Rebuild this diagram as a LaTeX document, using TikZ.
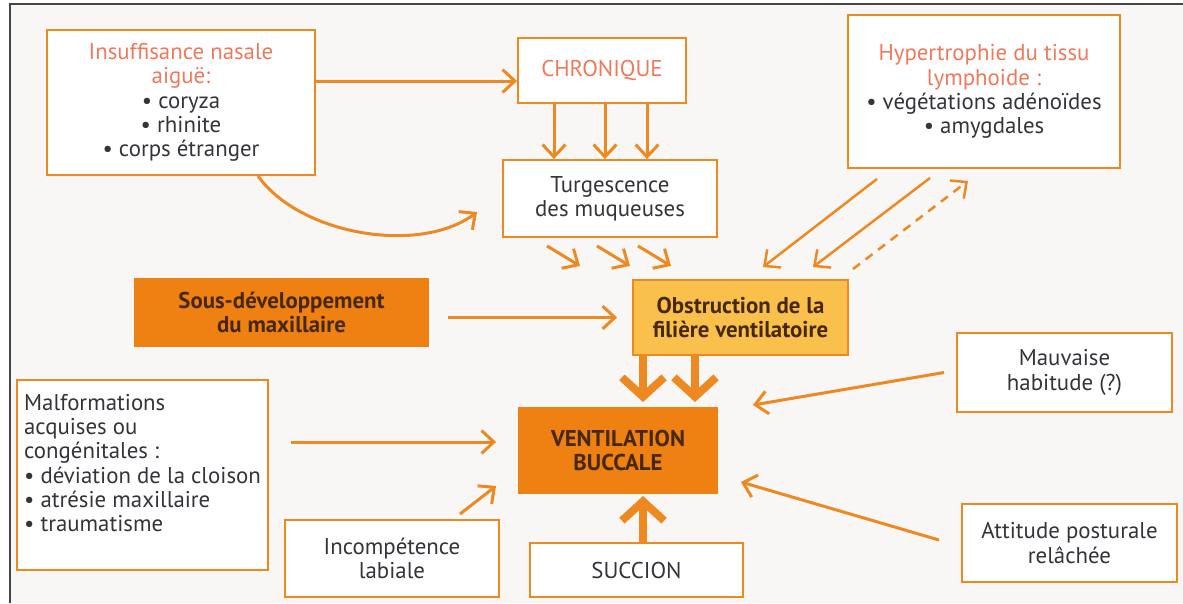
\documentclass[tikz,border=0pt]{standalone}
\usepackage{fontspec}
\setmainfont{PT Sans}
\usetikzlibrary{arrows.meta,positioning,calc}

\definecolor{orangeline}{RGB}{238,136,32}
\definecolor{orangefill}{RGB}{239,128,18}
\definecolor{yellowfill}{RGB}{250,192,76}
\definecolor{salmon}{RGB}{238,122,92}
\definecolor{darktext}{RGB}{52,52,58}
\definecolor{browntext}{RGB}{70,40,14}
\definecolor{bggray}{RGB}{248,247,246}
\definecolor{framegray}{RGB}{70,70,70}

\tikzset{
  box/.style={draw=orangeline, line width=1.1pt, fill=white, align=center, text=darktext,
    inner sep=2pt, font=\fontsize{13}{13.8}\selectfont},
  keybox/.style={box, fill=orangefill, draw=orangefill, text=browntext, font=\fontsize{13}{13.8}\selectfont\bfseries},
  flow/.style={draw=orangeline, line width=1.7pt, -{Straight Barb[length=7pt,width=13pt]}},
  thinflow/.style={flow, line width=1.4pt},
  bigflow/.style={draw=orangeline, line width=4.5pt, -{Straight Barb[length=11pt,width=24pt]}},
}

\begin{document}
\begin{tikzpicture}[x=0.02cm,y=-0.02cm]
\useasboundingbox (0,0) rectangle (1183,603);
\fill[bggray] (10,4) rectangle (1183,603);
\draw[framegray, line width=1.5pt] (10,603) -- (10,4) -- (1183,4);

% causes en haut
\node[box, minimum width=5.36cm, minimum height=2.9cm] (insuf) at (181,102.5)
  {\textcolor{salmon}{Insuffisance nasale}\\\textcolor{salmon}{aiguë:}\\• coryza\\• rhinite\\• corps étranger};
\node[box, minimum width=3.36cm, minimum height=1.3cm, text=salmon] (chron) at (602,70.5) {CHRONIQUE};
\node[box, minimum width=4.28cm, minimum height=1.54cm] (turg) at (610,198.5) {Turgescence\\des muqueuses};
\node[box, minimum width=5.44cm, minimum height=3.06cm] (hyper) at (984,91.5)
  {\textcolor{salmon}{Hypertrophie du tissu}\\\textcolor{salmon}{lymphoide :}\\• végétations adénoïdes\\• amygdales};

% milieu
\node[keybox, minimum width=5.86cm, minimum height=1.36cm] (sousdev) at (281.5,312.5) {Sous-développement\\du maxillaire};
\node[box, fill=yellowfill, text=browntext, font=\fontsize{13}{13.8}\selectfont\bfseries,
  minimum width=4.3cm, minimum height=1.5cm] (obstr) at (740.5,317.5) {Obstruction de la\\filière ventilatoire};
\node[keybox, minimum width=3.96cm, minimum height=1.7cm] (vent) at (618,450.5) {VENTILATION\\BUCCALE};

% causes en bas
\node[box, align=left, minimum width=5.02cm, minimum height=3.8cm] (malf) at (142.5,475)
  {Malformations\\acquises ou\\congénitales :\\• déviation de la cloison\\• atrésie maxillaire\\• traumatisme\\\mbox{}};
\node[box, minimum width=4.28cm, minimum height=1.54cm] (incomp) at (392,558.5) {Incompétence\\labiale};
\node[box, minimum width=4.26cm, minimum height=1.08cm] (succ) at (636.5,570) {SUCCION};
\node[box, minimum width=4.3cm, minimum height=1.58cm] (mauv) at (1064.5,372.5) {Mauvaise\\habitude (?)};
\node[box, minimum width=4.3cm, minimum height=1.56cm] (attit) at (1069.5,543) {Attitude posturale\\relâchée};

% fleches
\coordinate (chronin) at ($(chron.west)+(0,10.5)$);
\draw[flow] (insuf.east |- chronin) -- (chronin);
\draw[flow] ($(insuf.south)+(77,0)$) .. controls (300,235) and (420,255) .. ($(turg.west)+(-25,13.5)$);
\foreach \dx in {-48,3,45}
  \draw[flow] ($(chron.south)+(\dx,0)$) coordinate (s) -- (s |- turg.north);
\foreach \dx in {-63,-13,28}
  \draw[flow] ($(turg.south)+(\dx,8)$) -- ($(turg.south)+(\dx+33,28)$);
\draw[thinflow] ($(hyper.south)+(-107,10)$) -- ($(obstr.north)+(22.5,-12)$);
\draw[thinflow] ($(hyper.south)+(-54,9)$) -- ($(obstr.north)+(72.5,-12)$);
\draw[thinflow, dash pattern=on 5pt off 4pt] ($(obstr.north)+(112.5,-10)$) -- ($(hyper.south)+(-16,12)$);
\draw[flow] ($(sousdev.east |- obstr.west)+(19,0)$) -- ($(obstr.west)+(-15,0)$);
\foreach \dx in {-97.5,-45.5}
  \draw[bigflow] ($(obstr.south)+(\dx,0)$) coordinate (s) -- ($(s |- vent.north)+(0,-5)$);
\draw[flow] ($(malf.east)+(22,-33)$) -- ($(vent.west)+(-22,-8.5)$);
\draw[flow] ($(incomp.north)+(68,-5)$) -- ($(vent.south west)+(-22,-8)$);
\draw[bigflow] ($(succ.north)+(6.5,0)$) -- ($(vent.south)+(25,2)$);
\draw[flow] ($(mauv.west)+(-12,0)$) -- ($(vent.east)+(35,-45.5)$);
\draw[flow] ($(attit.west)+(-22,-3)$) -- ($(vent.east)+(23,31.5)$);
\end{tikzpicture}
\end{document}
